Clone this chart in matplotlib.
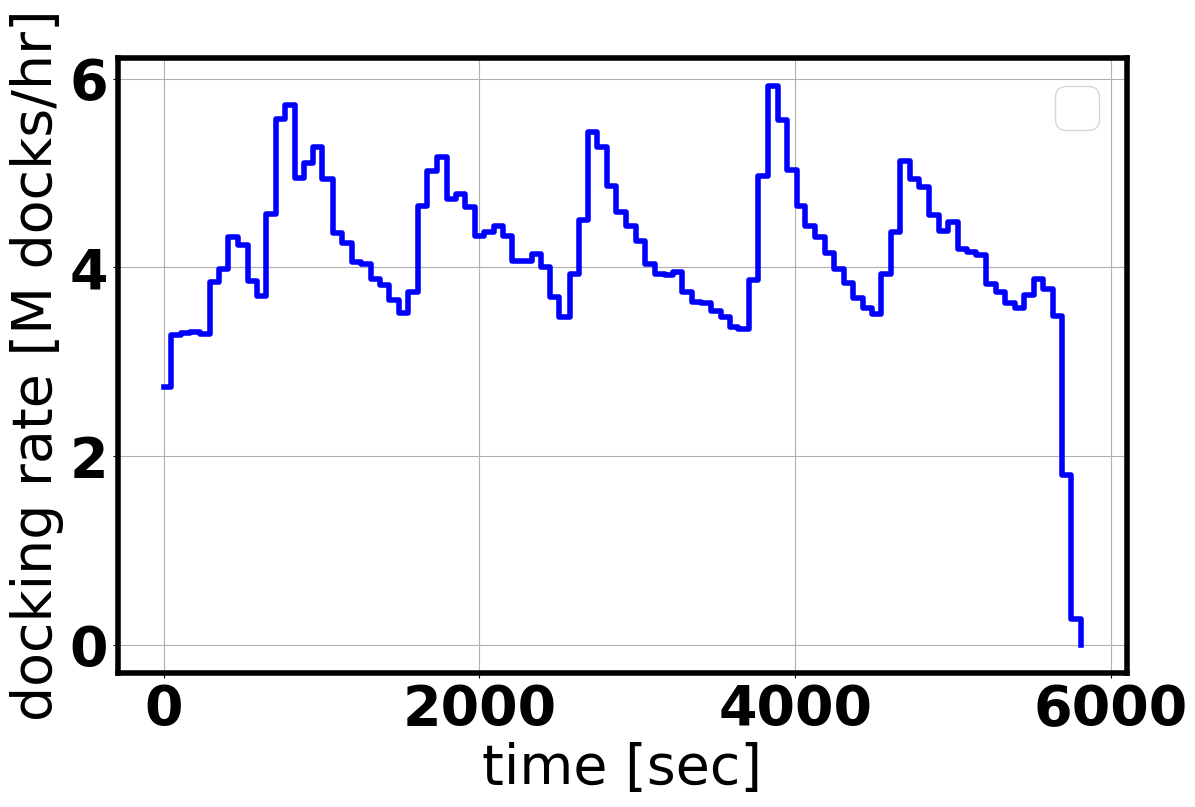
import matplotlib
matplotlib.use("Agg")
import matplotlib.pyplot as plt

# step start times [sec], plus the final drop point
times = [0, 48, 110, 169, 229, 290, 349, 408, 470, 533,
         588, 650, 709, 766, 829, 889, 948, 1005, 1069, 1132,
         1191, 1248, 1312, 1369, 1429, 1492, 1545, 1608, 1667, 1731,
         1792, 1851, 1911, 1972, 2032, 2091, 2148, 2207, 2269, 2330,
         2387, 2444, 2503, 2571, 2629, 2688, 2747, 2810, 2867, 2927,
         2995, 3048, 3111, 3175, 3227, 3286, 3350, 3407, 3467, 3528,
         3587, 3640, 3710, 3767, 3830, 3890, 3947, 4010, 4063, 4127,
         4190, 4248, 4311, 4370, 4429, 4486, 4546, 4610, 4667, 4730,
         4787, 4851, 4910, 4969, 5034, 5092, 5149, 5208, 5272, 5329,
         5392, 5451, 5515, 5568, 5632, 5691, 5749, 5812]

# docking rate [M docks/hr] for each step
rate = [2.73, 3.28, 3.30, 3.315, 3.295, 3.84, 3.98, 4.32, 4.235, 3.855,
        3.70, 4.565, 5.575, 5.715, 4.95, 5.11, 5.27, 4.935, 4.365, 4.26,
        4.06, 4.04, 3.875, 3.815, 3.655, 3.515, 3.735, 4.65, 5.02, 5.17,
        4.72, 4.775, 4.635, 4.33, 4.375, 4.435, 4.335, 4.07, 4.07, 4.14,
        4.005, 3.685, 3.47, 3.925, 4.50, 5.435, 5.27, 4.86, 4.59, 4.435,
        4.28, 4.035, 3.935, 3.92, 3.955, 3.735, 3.635, 3.62, 3.535, 3.475,
        3.365, 3.345, 3.865, 4.965, 5.92, 5.565, 5.03, 4.65, 4.44, 4.325,
        4.15, 3.98, 3.83, 3.68, 3.57, 3.505, 3.925, 4.375, 5.13, 4.935,
        4.855, 4.555, 4.385, 4.485, 4.19, 4.165, 4.13, 3.82, 3.74, 3.625,
        3.57, 3.705, 3.875, 3.77, 3.49, 1.80, 0.28, 0.0]

xticks = [0, 2000, 4000, 6000]
yticks = [0, 2, 4, 6]

plt.rcParams["font.size"] = 40

fig = plt.figure(figsize=(11.95, 8.07), dpi=100)
ax = fig.add_axes([0.0987, 0.166, 0.8443, 0.762])

ax.step(times, rate, where="post", color="b", linewidth=4)

ax.set_xticks(xticks)
ax.set_yticks(yticks)
for lab in ax.get_xticklabels() + ax.get_yticklabels():
    lab.set_fontweight("bold")
ax.set_xlabel("time [sec]")
ax.set_ylabel("docking rate [M docks/hr]")
ax.grid(True)
for s in ax.spines.values():
    s.set_linewidth(4)
ax.legend(loc="upper right")

fig.savefig("out.png", dpi=100)
